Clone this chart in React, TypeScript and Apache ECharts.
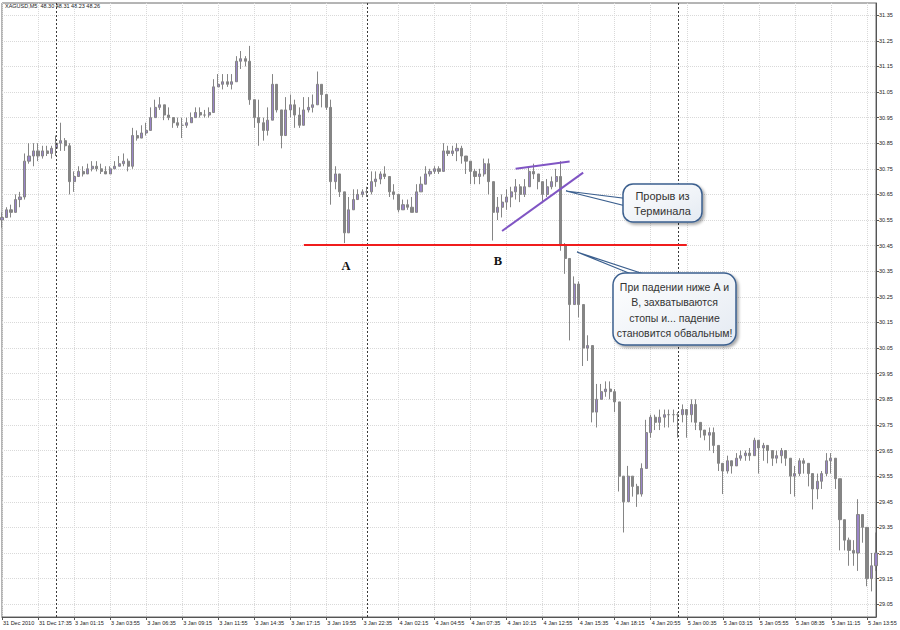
import React, { useEffect, useRef } from "react";
import * as echarts from "echarts";

// 20-minute aggregated bars
const closes = [
  30.56, 30.59, 30.58, 30.63, 30.64, 30.78, 30.80, 30.82, 30.80, 30.82,
  30.81, 30.83, 30.85, 30.86, 30.84, 30.70, 30.72, 30.74, 30.73, 30.75,
  30.76, 30.75, 30.74, 30.73, 30.75, 30.76, 30.77, 30.78, 30.76, 30.88,
  30.87, 30.89, 30.90, 30.95, 30.99, 31.00, 30.96, 30.95, 30.93, 30.92,
  30.92, 30.93, 30.95, 30.97, 30.96, 30.96, 30.97, 31.07, 31.08, 31.09,
  31.08, 31.09, 31.17, 31.18, 31.17, 31.02, 30.95, 30.93, 30.90, 30.94,
  31.08, 30.98, 30.88, 30.98, 31.00, 30.96, 30.92, 30.98, 30.99, 31.00,
  31.08, 31.04, 30.99, 30.70, 30.73, 30.66, 30.50, 30.59, 30.63, 30.65,
  30.66, 30.66, 30.70, 30.71, 30.73, 30.72, 30.66, 30.65, 30.59, 30.61,
  30.60, 30.58, 30.66, 30.69, 30.73, 30.74, 30.75, 30.74, 30.82, 30.81,
  30.82, 30.83, 30.80, 30.78, 30.74, 30.72, 30.73, 30.77, 30.70, 30.58,
  30.60, 30.62, 30.64, 30.66, 30.68, 30.65, 30.68, 30.74, 30.73, 30.70,
  30.65, 30.68, 30.70, 30.72, 30.45, 30.40, 30.22, 30.30, 30.22, 30.05,
  30.06, 29.80, 29.85, 29.88, 29.89, 29.88, 29.84, 29.55, 29.45, 29.55,
  29.51, 29.48, 29.58, 29.72, 29.78, 29.76, 29.78, 29.79, 29.79, 29.79,
  29.79, 29.81, 29.79, 29.83, 29.76, 29.73, 29.71, 29.72, 29.67, 29.60,
  29.57, 29.61, 29.59, 29.62, 29.63, 29.64, 29.63, 29.69, 29.66, 29.67,
  29.65, 29.62, 29.63, 29.65, 29.62, 29.55, 29.56, 29.61, 29.60, 29.56,
  29.50, 29.53, 29.56, 29.61, 29.62, 29.54, 29.38, 29.30, 29.26, 29.25,
  29.40, 29.35, 29.15, 29.20, 29.25,
];

const highs = [
  30.58, 30.60, 30.61, 30.65, 30.66, 30.81, 30.85, 30.85, 30.85, 30.84,
  30.84, 30.84, 30.88, 30.93, 30.87, 30.85, 30.74, 30.76, 30.76, 30.77,
  30.78, 30.78, 30.77, 30.76, 30.76, 30.78, 30.80, 30.81, 30.79, 30.91,
  30.90, 30.92, 30.93, 30.99, 31.02, 31.03, 31.00, 30.99, 30.95, 30.95,
  30.95, 30.95, 30.97, 30.99, 30.99, 30.98, 30.99, 31.10, 31.12, 31.12,
  31.12, 31.12, 31.19, 31.21, 31.19, 31.23, 31.02, 31.02, 30.95, 30.99,
  31.12, 31.07, 30.98, 31.03, 31.04, 31.02, 30.99, 31.03, 31.03, 31.04,
  31.13, 31.08, 31.03, 31.02, 30.76, 30.71, 30.66, 30.64, 30.67, 30.67,
  30.67, 30.68, 30.74, 30.74, 30.74, 30.76, 30.72, 30.69, 30.65, 30.63,
  30.63, 30.64, 30.69, 30.72, 30.76, 30.75, 30.76, 30.76, 30.85, 30.84,
  30.84, 30.85, 30.84, 30.80, 30.78, 30.75, 30.75, 30.79, 30.79, 30.70,
  30.64, 30.65, 30.67, 30.68, 30.71, 30.69, 30.71, 30.76, 30.77, 30.73,
  30.70, 30.71, 30.72, 30.75, 30.78, 30.46, 30.40, 30.33, 30.31, 30.22,
  30.10, 30.06, 29.91, 29.91, 29.92, 29.92, 29.89, 29.84, 29.55, 29.59,
  29.55, 29.52, 29.60, 29.77, 29.79, 29.79, 29.81, 29.81, 29.81, 29.81,
  29.80, 29.83, 29.81, 29.85, 29.85, 29.76, 29.73, 29.74, 29.74, 29.67,
  29.59, 29.63, 29.60, 29.64, 29.65, 29.65, 29.66, 29.70, 29.69, 29.68,
  29.66, 29.65, 29.65, 29.66, 29.65, 29.62, 29.59, 29.62, 29.62, 29.60,
  29.56, 29.56, 29.57, 29.64, 29.64, 29.62, 29.54, 29.38, 29.31, 29.30,
  29.46, 29.40, 29.35, 29.25, 29.33,
];

const lows = [
  30.52, 30.56, 30.56, 30.58, 30.60, 30.63, 30.77, 30.76, 30.78, 30.79,
  30.80, 30.79, 30.80, 30.82, 30.82, 30.65, 30.66, 30.72, 30.72, 30.73,
  30.74, 30.74, 30.73, 30.73, 30.74, 30.75, 30.76, 30.76, 30.74, 30.75,
  30.86, 30.87, 30.88, 30.90, 30.95, 30.98, 30.94, 30.94, 30.91, 30.91,
  30.87, 30.91, 30.93, 30.95, 30.95, 30.95, 30.95, 30.97, 31.07, 31.06,
  31.07, 31.06, 31.09, 31.14, 31.15, 31.00, 30.91, 30.84, 30.86, 30.88,
  30.94, 30.97, 30.83, 30.88, 30.95, 30.91, 30.91, 30.92, 30.97, 30.97,
  31.00, 30.99, 30.98, 30.61, 30.67, 30.64, 30.46, 30.50, 30.59, 30.63,
  30.64, 30.64, 30.65, 30.68, 30.69, 30.71, 30.64, 30.63, 30.58, 30.59,
  30.59, 30.58, 30.58, 30.66, 30.69, 30.72, 30.73, 30.73, 30.74, 30.80,
  30.80, 30.78, 30.77, 30.73, 30.69, 30.69, 30.69, 30.72, 30.65, 30.47,
  30.55, 30.56, 30.59, 30.60, 30.63, 30.62, 30.64, 30.68, 30.71, 30.67,
  30.62, 30.64, 30.67, 30.68, 30.43, 30.34, 30.08, 30.22, 30.17, 29.98,
  30.00, 29.76, 29.74, 29.85, 29.86, 29.85, 29.80, 29.49, 29.33, 29.45,
  29.47, 29.43, 29.47, 29.58, 29.70, 29.73, 29.73, 29.74, 29.74, 29.76,
  29.70, 29.76, 29.70, 29.76, 29.73, 29.70, 29.69, 29.65, 29.64, 29.57,
  29.48, 29.56, 29.56, 29.59, 29.61, 29.61, 29.61, 29.63, 29.56, 29.61,
  29.60, 29.59, 29.60, 29.60, 29.59, 29.48, 29.47, 29.55, 29.56, 29.51,
  29.42, 29.46, 29.50, 29.55, 29.56, 29.50, 29.26, 29.26, 29.20, 29.20,
  29.18, 29.29, 29.12, 29.10, 29.18,
];

const firstOpen = 30.55;

const timeLabels = [
  "31 Dec 2010", "31 Dec 17:35", "3 Jan 01:15", "3 Jan 03:55", "3 Jan 06:35",
  "3 Jan 09:15", "3 Jan 11:55", "3 Jan 14:35", "3 Jan 17:15", "3 Jan 19:55",
  "3 Jan 22:35", "4 Jan 02:15", "4 Jan 04:55", "4 Jan 07:35", "4 Jan 10:15",
  "4 Jan 12:55", "4 Jan 15:35", "4 Jan 18:15", "4 Jan 20:55", "5 Jan 00:35",
  "5 Jan 03:15", "5 Jan 05:55", "5 Jan 08:35", "5 Jan 11:15", "5 Jan 13:55",
];
const labelStep = 8; // bars between time labels

const priceTicks = [
  29.05, 29.15, 29.25, 29.35, 29.45, 29.55, 29.65, 29.75, 29.85, 29.95,
  30.05, 30.15, 30.25, 30.35, 30.45, 30.55, 30.65, 30.75, 30.85, 30.95,
  31.05, 31.15, 31.25, 31.35,
];

const daySeparators = [12, 81, 150];
const supportLevel = 30.455;
const supportFrom = 67;
const supportTo = 152;
const wedgeUpper = [[114, 30.75], [126, 30.779]];
const wedgeLower = [[111, 30.507], [129, 30.735]];

const titleText = "XAGUSD,M5  48.30 48.31 48.23 48.26";
const callout1 = ["Прорыв из", "Терминала"];
const callout2 = ["При падении ниже А и", "В, захватываются", "стопы и... падение", "становится обвальным!"];

export default function App() {
  const ref = useRef<HTMLDivElement>(null);

  useEffect(() => {
    if (!ref.current) return;
    const chart = echarts.init(ref.current, null, { renderer: "svg" });

    const categories = closes.map((_, i) => String(i));
    const ohlc = closes.map((c, i) => [i === 0 ? firstOpen : closes[i - 1], c, lows[i], highs[i]]);
    const showAt = (i: number) => i % labelStep === 0;
    const axisFont = { fontSize: 5.5, color: "#222", fontFamily: "Liberation Sans" };

    const boxFill = () =>
      new echarts.graphic.LinearGradient(0, 0, 1, 1, [
        { offset: 0, color: "#ffffff" },
        { offset: 1, color: "#e4eaf2" },
      ]);
    const boxStroke = "#3b5f8e";

    const option: any = {
      animation: false,
      backgroundColor: "#ffffff",
      grid: {
        left: 2, right: 24, top: 3, bottom: 13,
        show: true, borderColor: "#6a6a6a", borderWidth: 1,
        containLabel: false,
      },
      xAxis: {
        type: "category",
        data: categories,
        boundaryGap: false,
        axisLine: { show: true, lineStyle: { color: "#555" } },
        axisTick: { show: true, length: 3, interval: showAt, lineStyle: { color: "#555" } },
        axisLabel: {
          ...axisFont,
          interval: showAt,
          align: "left",
          margin: 3,
          padding: [0, 0, 0, 1],
          formatter: (_v: string, i: number) => timeLabels[i / labelStep] ?? "",
        },
        splitLine: { show: true, interval: showAt, lineStyle: { color: "#d9d9d9", type: "dotted", width: 1 } },
      },
      yAxis: {
        type: "value",
        position: "right",
        min: 29.0,
        max: 31.3975,
        axisLine: { show: true, lineStyle: { color: "#555" } },
        axisTick: { show: true, length: 3, customValues: priceTicks, lineStyle: { color: "#555" } },
        axisLabel: {
          ...axisFont,
          customValues: priceTicks,
          margin: 3,
          formatter: (v: number) => v.toFixed(2),
        },
        splitLine: { show: true, lineStyle: { color: "#d9d9d9", type: "dotted", width: 1 } },
      },
      series: [
        {
          type: "candlestick",
          data: ohlc,
          barWidth: 2.6,
          clip: true,
          itemStyle: {
            color: "#9a85c8",
            color0: "#858585",
            borderColor: "#858585",
            borderColor0: "#858585",
            borderWidth: 1,
          },
          markLine: {
            silent: true,
            symbol: "none",
            label: { show: false },
            data: [
              ...daySeparators.map((d) => ({
                xAxis: d,
                lineStyle: { color: "#3a3a3a", type: [2, 2], width: 1 },
              })),
              [
                { coord: [supportFrom, supportLevel], lineStyle: { color: "#f01c1c", width: 2, type: "solid" } },
                { coord: [supportTo, supportLevel] },
              ],
              [
                { coord: wedgeUpper[0], lineStyle: { color: "#8055c4", width: 2, type: "solid" } },
                { coord: wedgeUpper[1] },
              ],
              [
                { coord: wedgeLower[0], lineStyle: { color: "#8055c4", width: 2, type: "solid" } },
                { coord: wedgeLower[1] },
              ],
            ],
          },
        },
      ],
      graphic: [
        {
          type: "text",
          x: 5, y: 6,
          style: { text: titleText, fontSize: 5.5, fontFamily: "Liberation Sans", fill: "#222", verticalAlign: "middle" },
        },
        {
          type: "text",
          x: 346, y: 266,
          style: { text: "A", fontSize: 12.5, fontWeight: "bold", fontFamily: "Liberation Serif", fill: "#111", align: "center", verticalAlign: "middle" },
        },
        {
          type: "text",
          x: 498, y: 261,
          style: { text: "B", fontSize: 12.5, fontWeight: "bold", fontFamily: "Liberation Serif", fill: "#111", align: "center", verticalAlign: "middle" },
        },
        // callout 1
        {
          type: "polygon",
          z: 10,
          shape: { points: [[566, 191], [630, 199], [630, 207]] },
          style: { fill: "#ffffff", stroke: boxStroke, lineWidth: 1.2 },
        },
        {
          type: "rect",
          z: 11,
          shape: { x: 623, y: 184, width: 79, height: 38, r: 10 },
          style: {
            fill: boxFill(), stroke: boxStroke, lineWidth: 1.5,
            shadowBlur: 3, shadowOffsetX: 2, shadowOffsetY: 2, shadowColor: "rgba(0,0,0,0.35)",
          },
        },
        {
          type: "text",
          z: 12,
          x: 662.5, y: 203,
          style: {
            text: callout1.join("\n"), fontSize: 11, lineHeight: 15,
            fontFamily: "Liberation Sans", fill: "#333", align: "center", verticalAlign: "middle",
          },
        },
        // callout 2
        {
          type: "polygon",
          z: 10,
          shape: { points: [[577, 252], [646, 280], [662, 280]] },
          style: { fill: "#ffffff", stroke: boxStroke, lineWidth: 1.2 },
        },
        {
          type: "rect",
          z: 11,
          shape: { x: 613, y: 273, width: 123, height: 72, r: 12 },
          style: {
            fill: boxFill(), stroke: boxStroke, lineWidth: 1.5,
            shadowBlur: 3, shadowOffsetX: 2, shadowOffsetY: 2, shadowColor: "rgba(0,0,0,0.35)",
          },
        },
        {
          type: "text",
          z: 12,
          x: 674.5, y: 310,
          style: {
            text: callout2.join("\n"), fontSize: 10.5, lineHeight: 15.3,
            fontFamily: "Liberation Sans", fill: "#333", align: "center", verticalAlign: "middle",
          },
        },
      ],
    };

    chart.setOption(option);
    return () => chart.dispose();
  }, []);

  return (
    <div
      ref={ref}
      style={{ position: "absolute", left: 0, top: 0, width: 900, height: 630, background: "#fff" }}
    />
  );
}
